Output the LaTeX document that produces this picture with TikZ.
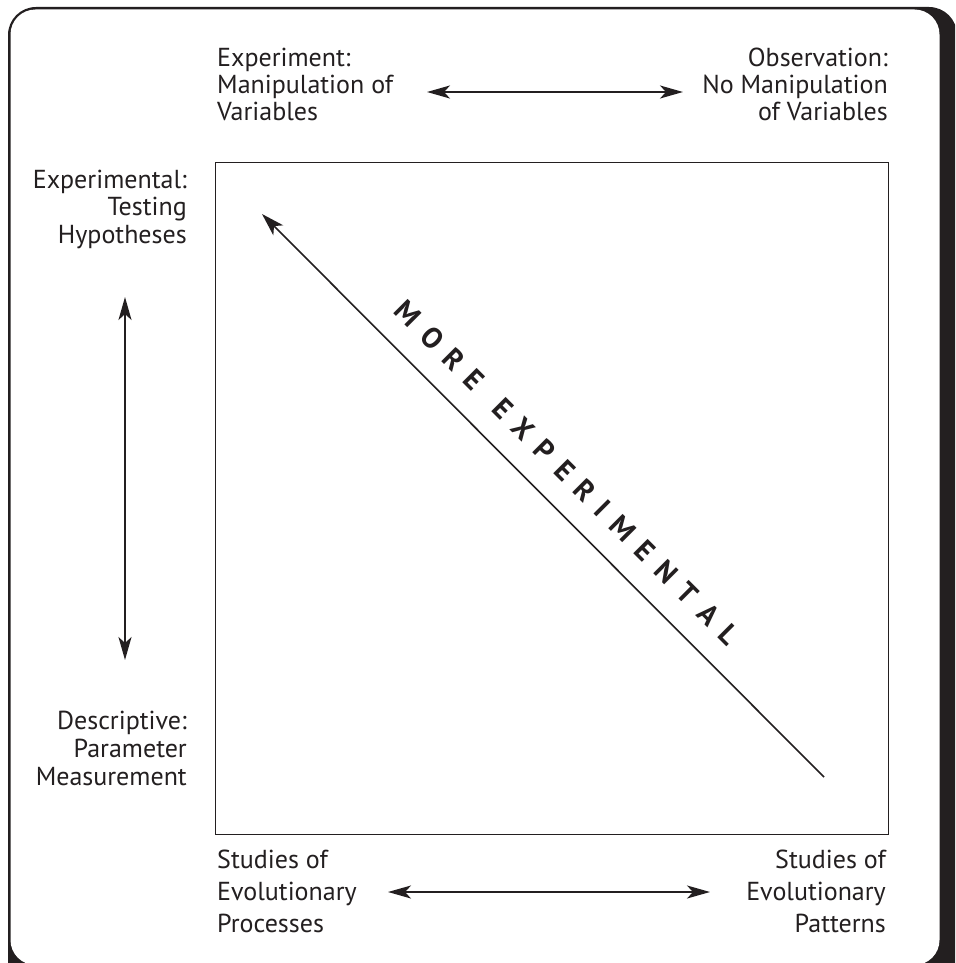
\documentclass[tikz,border=0pt]{standalone}
\usepackage{fontspec}
\setmainfont{PT Sans}
\usetikzlibrary{arrows.meta}
\definecolor{ink}{RGB}{35,31,32}
\newcommand\txtL[2]{\vtop{\baselineskip=#1\lineskiplimit=-20pt\lineskip=0pt\halign{##\hfil\cr #2\crcr}}}
\newcommand\txtR[2]{\vtop{\baselineskip=#1\lineskiplimit=-20pt\lineskip=0pt\halign{\hfil##\cr #2\crcr}}}
\newcommand\ls{\kern12.5pt}
\tikzset{
  lbl/.style={inner sep=0pt, text=ink, font=\fontsize{26}{28}\selectfont},
  dbl/.style={ink, line width=1.8pt, {Stealth[length=23pt,width=13pt,inset=6pt]}-{Stealth[length=23pt,width=13pt,inset=6pt]}},
  sgl/.style={ink, line width=1.6pt, -{Stealth[length=23pt,width=14pt,inset=6pt]}},
  title/.style={inner sep=0pt, text=ink, font=\fontsize{29}{32}\selectfont\bfseries}
}
\begin{document}
\begin{tikzpicture}[x=1pt, y=-1pt]
\useasboundingbox (0,0) rectangle (955,963);
% frame
\begin{scope}
\clip (0,0) rectangle (955,963);
\fill[ink, rounded corners=28pt] (8,7) rectangle (957,1010);
\fill[white, rounded corners=25pt] (10.5,9.5) rectangle (939.5,965);
\end{scope}
% square
\node[draw=ink, line width=1.2pt, inner sep=0pt, minimum width=673pt, minimum height=672pt, anchor=north west] (box) at (215,162) {};
% labels
\node[lbl, anchor=base west] (tl) at (217,67) {\txtL{27pt}{Experiment:\cr Manipulation of\cr Variables}};
\node[lbl, anchor=base east] (tr) at (888,67) {\txtR{27pt}{Observation:\cr No Manipulation\cr of Variables}};
\node[lbl, anchor=base east] (lt) at (187,188) {\txtR{27.5pt}{Experimental:\cr Testing\cr Hypotheses}};
\node[lbl, anchor=base east] (lb) at (187,729) {\txtR{28pt}{Descriptive:\cr Parameter\cr Measurement}};
\node[lbl, anchor=base west] (bl) at (217,868) {\txtL{32pt}{Studies of\cr Evolutionary\cr Processes}};
\node[lbl, anchor=base east] (br) at (886,868) {\txtR{32pt}{Studies of\cr Evolutionary\cr Patterns}};
% arrow ends
\coordinate (ta) at (427,92);
\coordinate (tb) at (683,92);
\coordinate (la) at (125,297);
\coordinate (lb2) at (125,660);
\coordinate (ba) at (388,892);
\coordinate (bb) at (710,892);
\coordinate (ds) at (824,777);
\coordinate (de) at (262,214);
\draw[dbl] (ta) -- (tb);
\draw[dbl] (la) -- (lb2);
\draw[dbl] (ba) -- (bb);
\draw[sgl] (ds) -- (de);
% diagonal title
\node[title, rotate=-45, anchor=base] (mx) at (560,480) {M\ls O\ls R\ls E\ls\ls E\ls X\ls P\ls E\ls R\ls I\ls M\ls E\ls N\ls T\ls A\ls L};
\end{tikzpicture}
\end{document}
